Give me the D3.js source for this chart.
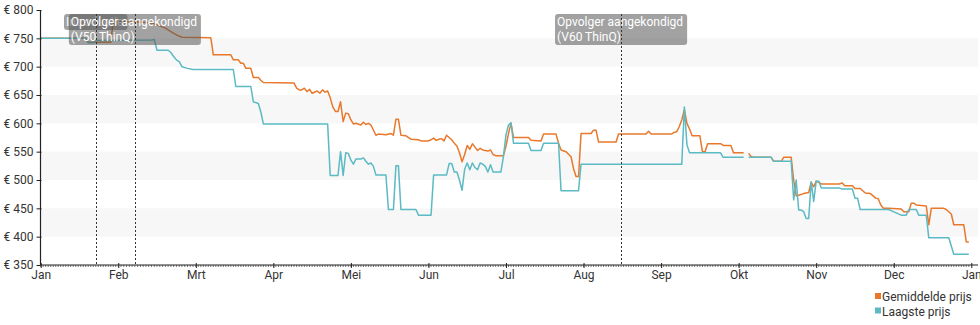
<!DOCTYPE html>
<html><head><meta charset="utf-8">
<script src="https://cdn.jsdelivr.net/npm/d3@7/dist/d3.min.js"></script>
<style>
html,body{margin:0;padding:0;background:#fff;}
svg{display:block;font-family:Roboto,"Noto Sans",sans-serif;}
</style></head>
<body>
<svg id="chart" width="980" height="325"></svg>
<script>
// ---- data ----
const maanden = ["Jan","Feb","Mrt","Apr","Mei","Jun","Jul","Aug","Sep","Okt","Nov","Dec","Jan"];
const dagenPerMaand = [31,28,31,30,31,30,31,31,30,31,30,31];
const yTicks = [350,400,450,500,550,600,650,700,750,800];
const bandRanges = [[400,450],[500,550],[600,650],[700,750]];

const gemiddeldePrijs = [
["01-01",750],["01-19",750],["01-20",743],["01-29",743],["01-30",780],["02-12",778],["02-15",774],["02-18",768],
["02-20",762],["02-22",756],["02-24",752],["03-07",751],["03-08",721],["03-15",721],["03-16",712],["03-18",712],
["03-19",706],["03-20",706],["03-21",697],["03-23",697],["03-24",681],["03-26",681],["03-27",676],["03-28",672],
["04-09",671],["04-10",662],["04-11",659],["04-12",659],["04-13",662],["04-14",656],["04-15",660],["04-16",653],
["04-18",657],["04-19",653],["04-20",659],["04-21",655],["04-22",657],["04-23",645],["04-24",629],["04-25",621],
["04-26",621],["04-27",638],["04-28",603],["04-29",618],["04-30",617],["05-01",606],["05-02",599],["05-03",600],
["05-05",597],["05-06",602],["05-07",598],["05-08",600],["05-09",597],["05-11",579],["05-12",581],["05-15",580],
["05-17",582],["05-18",579],["05-19",607],["05-20",607],["05-21",579],["05-23",578],["05-25",572],["05-28",571],
["05-29",569],["05-31",569],["06-01",569],["06-02",571],["06-03",574],["06-04",570],["06-05",572],["06-06",573],
["06-07",569],["06-08",579],["06-10",571],["06-11",565],["06-12",560],["06-13",548],["06-14",532],["06-15",545],
["06-16",561],["06-17",554],["06-18",564],["06-19",558],["06-20",552],["06-21",556],["06-22",553],["06-23",552],
["06-24",551],["06-25",553],["06-26",545],["06-27",543],["06-30",543],["07-01",560],["07-02",582],["07-03",600],
["07-04",575],["07-10",575],["07-11",570],["07-15",569],["07-16",581],["07-21",581],["07-22",565],["07-23",553],
["07-25",550],["07-27",541],["07-28",520],["07-29",506],["07-30",506],["07-31",582],["08-04",582],["08-05",588],
["08-06",588],["08-07",567],["08-14",567],["08-15",581],["08-26",581],["08-27",586],["08-28",581],["09-05",581],
["09-06",584],["09-07",585],["09-08",594],["09-09",606],["09-10",624],["09-11",600],["09-12",590],["09-13",578],
["09-16",578],["09-17",550],["09-18",550],["09-19",564],["09-24",564],["09-25",561],["09-28",561],["09-29",548],
["10-03",548],["10-04",null],["10-05",547],["10-06",541],["10-07",540],["10-14",540],["10-15",533],["10-18",533],
["10-19",540],["10-22",540],["10-23",500],["10-24",472],["10-25",473],["10-27",476],["10-29",478],["10-30",496],
["10-31",488],["11-01",498],["11-03",493],["11-10",493],["11-11",495],["11-12",490],["11-15",490],["11-16",485],
["11-18",485],["11-20",477],["11-22",476],["11-24",468],["11-25",467],["11-26",456],["11-27",450],["11-29",450],
["12-04",449],["12-05",444],["12-07",444],["12-08",459],["12-09",459],["12-10",456],["12-14",454],["12-15",421],
["12-16",450],["12-21",450],["12-22",448],["12-24",440],["12-25",421],["12-29",421],["12-30",391],["12-31",390]
];

const laagstePrijs = [
["01-01",750],["01-19",750],["01-20",742],["01-22",742],["01-23",746],["02-13",747],["02-14",748],["02-15",729],
["02-19",729],["02-20",725],["02-21",718],["02-22",712],["02-23",709],["02-24",700],["02-26",697],["02-28",695],
["03-16",695],["03-17",665],["03-23",665],["03-24",638],["03-26",635],["03-27",620],["03-28",599],["04-22",599],
["04-23",508],["04-26",508],["04-27",550],["04-28",508],["04-29",548],["04-30",547],["05-01",535],["05-02",528],
["05-03",537],["05-05",537],["05-06",539],["05-07",533],["05-08",528],["05-09",530],["05-10",524],["05-11",509],
["05-15",509],["05-16",448],["05-18",448],["05-19",525],["05-20",525],["05-21",448],["05-27",448],["05-28",438],
["06-02",438],["06-03",509],["06-08",509],["06-09",529],["06-10",529],["06-11",514],["06-12",514],["06-13",500],
["06-14",482],["06-15",519],["06-16",530],["06-17",518],["06-18",530],["06-19",522],["06-20",518],["06-21",530],
["06-22",528],["06-23",524],["06-24",514],["06-25",527],["06-26",514],["06-29",514],["06-30",541],["07-01",580],
["07-02",597],["07-03",601],["07-04",565],["07-10",565],["07-11",552],["07-15",552],["07-16",565],["07-22",565],
["07-23",481],["07-30",481],["07-31",528],["09-09",528],["09-10",629],["09-11",562],["09-12",548],["09-24",548],
["09-25",540],["10-03",540],["10-04",null],["10-05",540],["10-14",540],["10-15",533],["10-22",533],["10-23",465],
["10-24",500],["10-25",447],["10-26",447],["10-27",444],["10-28",432],["10-29",432],["10-30",497],["10-31",462],
["11-01",498],["11-02",498],["11-03",486],["11-10",486],["11-11",484],["11-15",484],["11-16",468],["11-17",468],
["11-18",448],["11-29",448],["11-30",446],["12-04",438],["12-06",438],["12-07",448],["12-10",448],["12-11",438],
["12-14",438],["12-15",398],["12-23",398],["12-25",369],["12-31",369]
];

const annotaties = [
  {datum:"01-23", tekst:["Introductie"]},
  {datum:"02-07", tekst:["Opvolger aangekondigd","(V50 ThinQ)"]},
  {datum:"08-16", tekst:["Opvolger aangekondigd","(V60 ThinQ)"]}
];

const series = [
  {naam:"Gemiddelde prijs", data:gemiddeldePrijs, kleur:"#e8782b"},
  {naam:"Laagste prijs", data:laagstePrijs, kleur:"#5bbac4"}
];

// ---- drawing ----
const svg = d3.select("#chart");
const plotL = 40.5, plotR = 978, plotT = 10, plotB = 265;

function pos(s){
  const [mm,dd] = s.split("-").map(Number);
  return (mm-1) + (dd-1)/dagenPerMaand[mm-1];
}

const x = d3.scaleLinear().domain([0,12]).range([40.7,971.3]);
const y = d3.scaleLinear().domain([350,800]).range([plotB, plotT]);

// bands
svg.append("g").selectAll("rect").data(bandRanges).join("rect")
  .attr("x", plotL+0.5).attr("width", plotR-plotL-0.5)
  .attr("y", d=>y(d[1])).attr("height", d=>y(d[0])-y(d[1]))
  .attr("fill","#f7f7f7");

// lines
const line = d3.line()
  .defined(d=>d[1]!==null)
  .x(d=>x(pos(d[0])))
  .y(d=>y(d[1]));

svg.append("g").selectAll("path").data(series).join("path")
  .attr("d", d=>line(d.data))
  .attr("fill","none")
  .attr("stroke", d=>d.kleur)
  .attr("stroke-width",1.5)
  .attr("stroke-linejoin","round");

// y axis
const yAxis = d3.axisLeft(y).tickValues(yTicks).tickSize(4).tickPadding(3)
  .tickFormat(d=>"€ "+d);
const gy = svg.append("g").attr("transform",`translate(${plotL},0)`).call(yAxis);
gy.select(".domain").attr("stroke","#222").attr("stroke-width",1.2).attr("d",`M0,${plotT}V${plotB}`);
gy.selectAll(".tick line").attr("stroke","#222").attr("x2",-4).attr("x1",1);
gy.selectAll("text").attr("font-size",12).attr("fill","#333").attr("font-family","Roboto");

// x axis minor ticks (daily)
const dagen = [];
dagenPerMaand.forEach((n,m)=>{ for(let d=0; d<n; d++) dagen.push(m + d/n); });
const gmin = svg.append("g").attr("transform",`translate(0,${plotB})`);
gmin.selectAll("line").data(dagen).join("line")
  .attr("x1",d=>x(d)).attr("x2",d=>x(d)).attr("y1",0).attr("y2",2)
  .attr("stroke","#777").attr("stroke-width",1);

// x axis
const xAxis = d3.axisBottom(x).tickValues(d3.range(0,13)).tickSize(3).tickPadding(2)
  .tickFormat(i=>maanden[i]);
const gx = svg.append("g").attr("transform",`translate(0,${plotB})`).call(xAxis);
gx.select(".domain").attr("stroke","#222").attr("stroke-width",1.2).attr("d",`M${plotL},0H${plotR}`);
gx.selectAll(".tick line").attr("stroke","#222").attr("y1",-2).attr("y2",3);
gx.selectAll("text").attr("font-size",12).attr("fill","#333").attr("font-family","Roboto");

// annotations
const ann = svg.append("g");
annotaties.forEach(a=>{
  const cx = x(pos(a.datum));
  const g = ann.append("g");
  const rect = g.append("rect").attr("y",14).attr("rx",3).attr("ry",3)
    .attr("fill","#555").attr("fill-opacity",0.55);
  const texts = a.tekst.map((t,i)=>g.append("text").text(t)
    .attr("y",25.5+i*15).attr("font-size",12).attr("fill","#fff").attr("font-family","Roboto"));
  const w = d3.max(texts, t=>t.node().getComputedTextLength()) + 6;
  const bx = cx - w/2;
  rect.attr("x",bx).attr("width",w).attr("height",a.tekst.length*15+1);
  texts.forEach(t=>t.attr("x",bx+2));
});
ann.selectAll("line.v").data(annotaties).join("line").attr("class","v")
  .attr("x1",d=>Math.round(x(pos(d.datum)))+0.5).attr("x2",d=>Math.round(x(pos(d.datum)))+0.5)
  .attr("y1",14).attr("y2",plotB)
  .attr("stroke","#333").attr("stroke-width",1).attr("stroke-dasharray","2,2");

// legend
const leg = svg.append("g").attr("transform","translate(875,293)");
series.forEach((s,i)=>{
  leg.append("rect").attr("x",0).attr("y",i*14.5).attr("width",6).attr("height",6).attr("fill",s.kleur);
  leg.append("text").attr("x",7).attr("y",i*14.5+8).text(s.naam)
    .attr("font-size",12).attr("fill","#333").attr("font-family","Roboto");
});
</script>
</body></html>
